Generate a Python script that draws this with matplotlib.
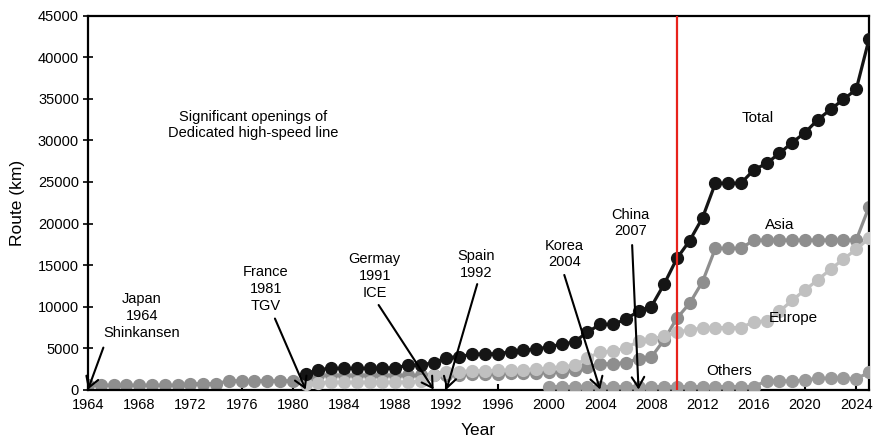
import numpy as np
import matplotlib
matplotlib.use('Agg')
import matplotlib.pyplot as plt

plt.rcParams['font.family'] = ['Liberation Sans', 'DejaVu Sans']
plt.rcParams['font.size'] = 10

# 各地区高速铁路运营里程 (km)
years_asia = list(range(1964, 2026))
asia = ([515] * 8 + [700] * 3 + [1050] * 7 + [1700] * 9 +
        [1750, 1800, 1800, 1850, 1850, 1900, 1950, 1950, 2000, 2050, 2100, 2300,
         2700, 3100, 3100, 3250, 3700, 3900, 6000, 8600, 10400, 13000,
         17000, 17000, 17000] + [18000] * 9 + [22000])

years_europe = list(range(1981, 2026))
europe = [700, 800, 850, 850, 850, 850, 850, 850, 900, 1000,
          1700, 2100, 2150, 2250, 2250, 2300, 2350, 2400, 2450, 2600,
          2750, 2900, 3800, 4500, 4600, 5000, 5800, 6100, 6400, 6900,
          7200, 7400, 7450, 7450, 7450, 8150, 8250, 9400, 10750, 12000,
          13200, 14500, 15700, 16900, 18200]

years_others = list(range(2000, 2026))
others = [350] * 17 + [1050, 1050, 1000, 1150, 1350, 1350, 1350, 1300, 2050]

years_total = list(range(1981, 2026))
total = [1870, 2400, 2550, 2550, 2550, 2550, 2550, 2650, 2900, 3000,
         3200, 3850, 3950, 4250, 4300, 4300, 4550, 4750, 4850, 5150,
         5450, 5750, 6900, 7850, 7850, 8450, 9450, 10000, 12700, 15800,
         17950, 20700, 24850, 24850, 24850, 26450, 27250, 28450, 29750, 30950,
         32500, 33750, 34950, 36150, 42200]

# 专线开通事件: 文字位置, 箭头起点, 箭头终点年份
events = ['Japan\n1964\nShinkansen', 'France\n1981\nTGV', 'Germay\n1991\nICE',
          'Spain\n1992', 'Korea\n2004', 'China\n2007']
event_years = [1964, 1981, 1991, 1992, 2004, 2007]
text_pos = [(1968.2, 8860), (1977.9, 12110), (1986.4, 13680),
            (1994.3, 15060), (2001.2, 16330), (2006.4, 20060)]
arrow_start = [(1965.2, 5050), (1978.6, 8550), (1986.7, 10180),
               (1994.4, 12700), (2001.2, 13800), (2006.5, 17400)]

fig = plt.figure(figsize=(8.8, 4.38), dpi=100)
ax = fig.add_axes([0.1, 0.1107, 0.8875, 0.8528])

ms = 8.5
lw = 2.3
ax.plot(years_asia, asia, color='#8e8e8e', marker='o', markersize=ms, linewidth=lw, zorder=2)
ax.plot(years_europe, europe, color='#c0c0c0', marker='o', markersize=ms, linewidth=lw, zorder=3)
ax.plot(years_others, others, color='#9a9a9a', marker='o', markersize=ms, linewidth=lw, zorder=4)
ax.plot(years_total, total, color='#151515', marker='o', markersize=ms, linewidth=lw, zorder=5)

# 2010年标记线
ax.axvline(2010, color='#e8221b', linewidth=1.6, zorder=7)

for label, yr, tp, st in zip(events, event_years, text_pos, arrow_start):
    ax.text(tp[0], tp[1], label, ha='center', va='center', fontsize=10.5,
            linespacing=1.25, zorder=8)
    ax.annotate('', xy=(yr, 0), xytext=st,
                arrowprops=dict(arrowstyle='->,head_length=0.75,head_width=0.45',
                                color='black', lw=1.5, shrinkA=0, shrinkB=0,
                                mutation_scale=10),
                zorder=6)

ax.text(1976.9, 31870, 'Significant openings of\nDedicated high-speed line',
        ha='center', va='center', fontsize=10.5, linespacing=1.25)

ax.text(2016.3, 32700, 'Total', ha='center', va='center', fontsize=11)
ax.text(2018.0, 19800, 'Asia', ha='center', va='center', fontsize=11)
ax.text(2019.1, 8620, 'Europe', ha='center', va='center', fontsize=11)
ax.text(2014.1, 2220, 'Others', ha='center', va='center', fontsize=11)

ax.set_xlim(1964, 2025)
ax.set_ylim(0, 45000)
ax.set_xticks(range(1964, 2025, 4))
ax.set_yticks(range(0, 45001, 5000))
ax.tick_params(axis='x', direction='in', length=4, width=1.5, pad=6, labelsize=10.5)
ax.tick_params(axis='y', direction='inout', length=7, width=1.2, pad=3, labelsize=10.5)

for side in ['left', 'right', 'top', 'bottom']:
    ax.spines[side].set_linewidth(1.6)

ax.set_xlabel('Year', fontsize=12.5, labelpad=8)
ax.set_ylabel('Route (km)', fontsize=12.5, labelpad=9)

fig.savefig('out.png', dpi=100)
